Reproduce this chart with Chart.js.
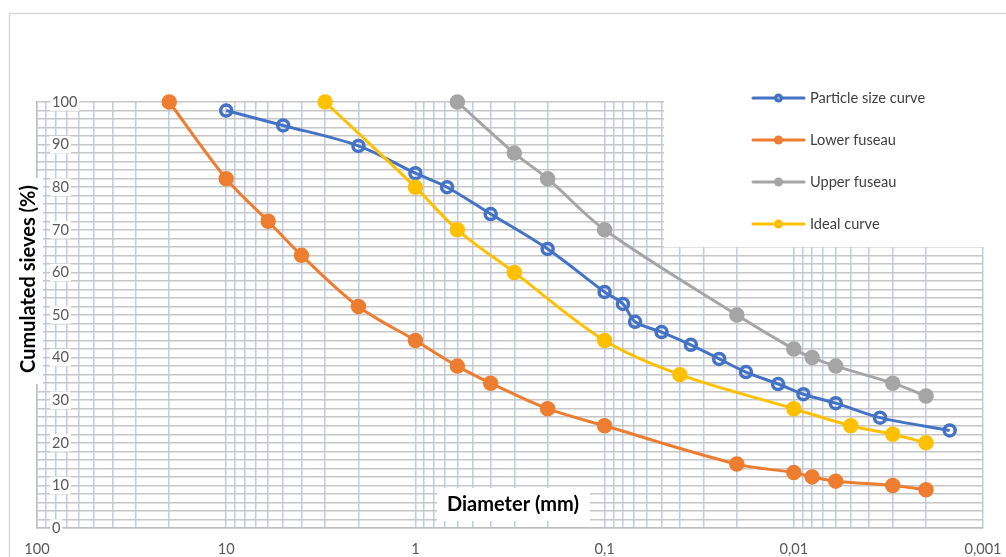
<!DOCTYPE html>
<html>
<head>
<meta charset="utf-8">
<script src="https://cdn.jsdelivr.net/npm/chart.js@4/dist/chart.umd.min.js"></script>
<style>
  html, body { margin: 0; padding: 0; background: #fff; }
  #wrap { width: 1006px; height: 557px; position: relative; }
</style>
</head>
<body>
<div id="wrap"><canvas id="c" width="1006" height="557"></canvas></div>
<script>
// ---------- DATA ----------
const seriesNames = ['Particle size curve', 'Lower fuseau', 'Upper fuseau', 'Ideal curve'];

const psdDiam = [10, 5, 2, 1, 0.68, 0.4, 0.2, 0.1, 0.08, 0.069, 0.05, 0.035, 0.0248, 0.0179, 0.0121, 0.0089, 0.006, 0.0035, 0.0015];
const psdPass = [98, 94.5, 89.7, 83.3, 80, 73.7, 65.5, 55.4, 52.6, 48.4, 46, 43, 39.7, 36.6, 33.8, 31.4, 29.3, 25.9, 22.9];

const lowerDiam = [20, 10, 6, 4, 2, 1, 0.6, 0.4, 0.2, 0.1, 0.02, 0.01, 0.008, 0.006, 0.003, 0.002];
const lowerPass = [100, 82, 72, 64, 52, 44, 38, 34, 28, 24, 15, 13, 12, 11, 10, 9];

const upperDiam = [0.6, 0.3, 0.2, 0.1, 0.02, 0.01, 0.008, 0.006, 0.003, 0.002];
const upperPass = [100, 88, 82, 70, 50, 42, 40, 38, 34, 31];

const idealDiam = [3, 1, 0.6, 0.3, 0.1, 0.04, 0.01, 0.005, 0.003, 0.002];
const idealPass = [100, 80, 70, 60, 44, 36, 28, 24, 22, 20];

const xTickValues = [100, 10, 1, 0.1, 0.01, 0.001];
const xTickLabels = ['100', '10', '1', '0,1', '0,01', '0,001'];
const yTickLabelStep = 10;
const yGridStep = 2;

const xTitle = 'Diameter (mm)';
const yTitle = 'Cumulated sieves (%)';

const colors = ['#4472C4', '#ED7D31', '#A5A5A5', '#FFC000'];

// ---------- helpers ----------
const toXY = (xs, ys) => xs.map((x, i) => ({ x: x, y: ys[i] }));

// grid positions: 1..9 x each decade
const xGridValues = [];
for (let i = xTickValues.length - 1; i > 0; i--) {
  const base = xTickValues[i];
  for (let k = 1; k <= 9; k++) xGridValues.push(+(base * k).toPrecision(6));
}
xGridValues.push(xTickValues[0]);

const FONT = 'Lato, "Open Sans", "DejaVu Sans", sans-serif';

function xLabelFor(v) {
  for (let i = 0; i < xTickValues.length; i++) {
    if (Math.abs(Math.log10(v / xTickValues[i])) < 1e-6) return xTickLabels[i];
  }
  return '';
}

// ---------- plugins ----------
const framePlugin = {
  id: 'frame',
  beforeDraw(chart) {
    const ctx = chart.ctx;
    ctx.save();
    ctx.fillStyle = '#ffffff';
    ctx.fillRect(0, 0, chart.width, chart.height);
    ctx.strokeStyle = '#d9d9d9';
    ctx.lineWidth = 1.5;
    ctx.strokeRect(9.5, 13.5, chart.width + 20, chart.height + 20);
    ctx.restore();
  }
};

const legendBoxPlugin = {
  id: 'legendBox',
  beforeDatasetsDraw(chart) {
    const ctx = chart.ctx;
    ctx.save();
    ctx.fillStyle = '#ffffff';
    ctx.fillRect(664, 90, 330, 157);
    ctx.restore();
  }
};

const overlayPlugin = {
  id: 'overlay',
  afterDraw(chart) {
    const ctx = chart.ctx;
    ctx.save();
    // Legend
    const ds = chart.data.datasets;
    const ys = [98, 140, 182, 224];
    ds.forEach((d, i) => {
      const y = ys[i];
      ctx.strokeStyle = d.borderColor;
      ctx.lineWidth = 3;
      ctx.lineCap = 'round';
      ctx.beginPath();
      ctx.moveTo(753, y);
      ctx.lineTo(804, y);
      ctx.stroke();
      ctx.beginPath();
      ctx.arc(778.5, y, 4.5, 0, Math.PI * 2);
      ctx.fillStyle = d.borderColor;
      ctx.fill();
      if (i === 0) {
        ctx.beginPath();
        ctx.arc(778.5, y, 1.5, 0, Math.PI * 2);
        ctx.fillStyle = '#8ea9db';
        ctx.fill();
      }
      ctx.fillStyle = '#404040';
      ctx.font = '14.6px ' + FONT;
      ctx.textAlign = 'left';
      ctx.textBaseline = 'middle';
      ctx.fillText(d.label, 810, y);
    });

    // Y title with white box
    ctx.fillStyle = '#ffffff';
    ctx.fillRect(14, 178, 29, 206);
    ctx.save();
    ctx.translate(29, 279);
    ctx.rotate(-Math.PI / 2);
    ctx.fillStyle = '#000000';
    ctx.font = 'bold 20px ' + FONT;
    ctx.textAlign = 'center';
    ctx.textBaseline = 'middle';
    ctx.fillText(yTitle, 0, 0);
    ctx.restore();

    // X title with white box
    ctx.fillStyle = '#ffffff';
    ctx.fillRect(437, 488, 153, 33);
    ctx.fillStyle = '#000000';
    ctx.font = 'bold 20px ' + FONT;
    ctx.textAlign = 'center';
    ctx.textBaseline = 'middle';
    ctx.fillText(xTitle, 513, 505);
    ctx.restore();
  }
};

// ---------- datasets ----------
function lineDs(label, data, color, order, hollow) {
  return {
    label: label,
    data: data,
    borderColor: color,
    backgroundColor: color,
    borderWidth: 3,
    tension: 0.33,
    pointStyle: 'circle',
    pointRadius: hollow ? 5.5 : 7,
    pointHoverRadius: hollow ? 5.5 : 7,
    pointBorderWidth: hollow ? 3.5 : 1.5,
    pointBorderColor: color,
    pointBackgroundColor: hollow ? 'rgba(255,255,255,0)' : color,
    order: order,
    clip: false
  };
}

const datasets = [
  lineDs(seriesNames[0], toXY(psdDiam, psdPass), colors[0], 4, true),
  lineDs(seriesNames[1], toXY(lowerDiam, lowerPass), colors[1], 3, false),
  lineDs(seriesNames[2], toXY(upperDiam, upperPass), colors[2], 2, false),
  lineDs(seriesNames[3], toXY(idealDiam, idealPass), colors[3], 1, false)
];

new Chart(document.getElementById('c'), {
  type: 'line',
  data: { datasets: datasets },
  plugins: [framePlugin, legendBoxPlugin, overlayPlugin],
  options: {
    responsive: false,
    animation: false,
    devicePixelRatio: 1,
    layout: { padding: { left: 0, top: 102, right: 23, bottom: 0 } },
    plugins: {
      legend: { display: false },
      tooltip: { enabled: false },
      title: { display: false }
    },
    scales: {
      x: {
        type: 'logarithmic',
        position: 'bottom',
        reverse: true,
        min: 0.001,
        max: 100,
        afterBuildTicks(scale) {
          scale.ticks = xGridValues.map(v => ({ value: v }));
        },
        afterFit(scale) { scale.height = 29; },
        ticks: {
          autoSkip: false,
          maxRotation: 0,
          minRotation: 0,
          padding: 13,
          color: '#595959',
          font: { family: FONT, size: 14.6 },
          callback: (v) => xLabelFor(v)
        },
        grid: { color: '#bccbec', lineWidth: 1.5, drawTicks: false },
        border: { color: '#bfbfbf', width: 1.5 }
      },
      y: {
        type: 'linear',
        position: 'left',
        min: 0,
        max: 100,
        afterFit(scale) { scale.width = 37; },
        ticks: {
          stepSize: yGridStep,
          autoSkip: false,
          mirror: true,
          padding: 15,
          color: '#595959',
          font: { family: FONT, size: 14.6 },
          callback: (v) => (v % yTickLabelStep === 0 ? String(v) : ''),
          showLabelBackdrop: true,
          backdropColor: (ctx) => (ctx.tick && ctx.tick.value % yTickLabelStep === 0 ? '#ffffff' : 'rgba(0,0,0,0)'),
          backdropPadding: { left: 2, right: 2, top: 0, bottom: 0 }
        },
        grid: { color: '#c6c6c6', lineWidth: 1.5, drawTicks: false },
        border: { color: '#bfbfbf', width: 1.5 }
      }
    }
  }
});
</script>
</body>
</html>
